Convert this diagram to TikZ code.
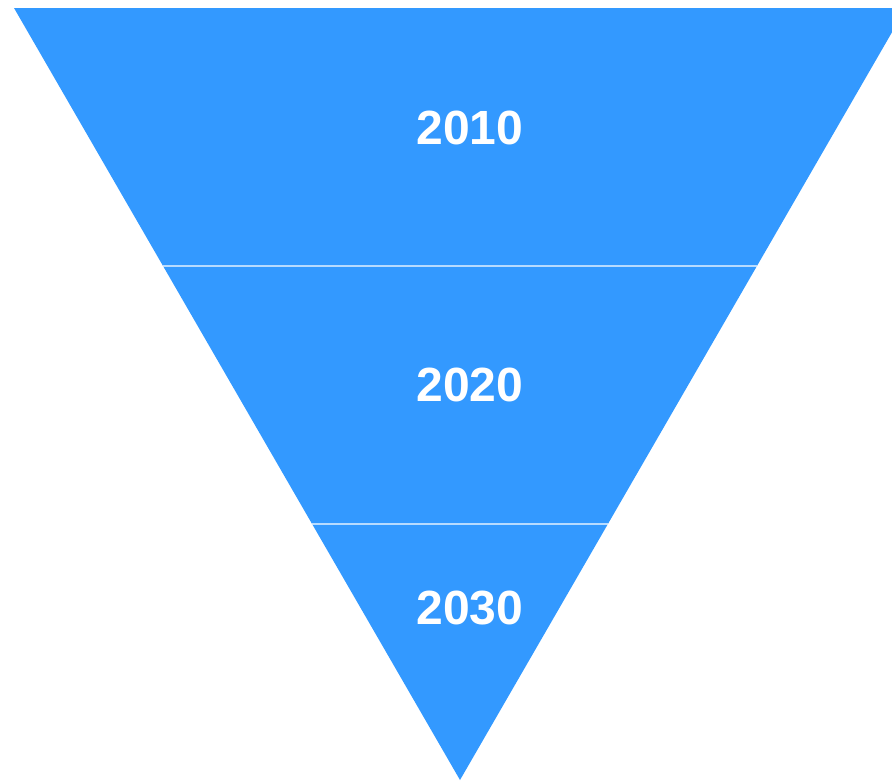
\documentclass[tikz,border=0pt]{standalone}
\usepackage{fontspec}
\setmainfont{Liberation Sans}
\usetikzlibrary{calc}
\definecolor{funnelblue}{HTML}{3399FF}
\begin{document}
\begin{tikzpicture}[x=1pt,y=-1pt,
  layer/.style={fill=funnelblue},
  divider/.style={draw=white,draw opacity=0.65,line width=2.5pt},
  yearlabel/.style={text=white,font=\bfseries\fontsize{48}{48}\selectfont,inner sep=0pt,anchor=center}]
  \useasboundingbox (0,0) rectangle (892,782);
  \clip (0,0) rectangle (892,782);
  % corners of the inverted triangle
  \coordinate (tl) at (14,8);
  \coordinate (tr) at (906,8);
  \coordinate (apex) at (460,780);
  \fill[layer] (tl) -- (tr) -- (apex) -- cycle;
  % split points on both slanted edges
  \coordinate (l1) at ($(tl)!{(266-8)/772}!(apex)$);
  \coordinate (r1) at ($(tr)!{(266-8)/772}!(apex)$);
  \coordinate (l2) at ($(tl)!{(524-8)/772}!(apex)$);
  \coordinate (r2) at ($(tr)!{(524-8)/772}!(apex)$);
  \draw[divider] (l1) -- (r1);
  \draw[divider] (l2) -- (r2);
  % labels
  \node[yearlabel] (y2010) at (470,128) {2010};
  \node[yearlabel] (y2020) at (470,385) {2020};
  \node[yearlabel] (y2030) at (470,608) {2030};
\end{tikzpicture}
\end{document}
